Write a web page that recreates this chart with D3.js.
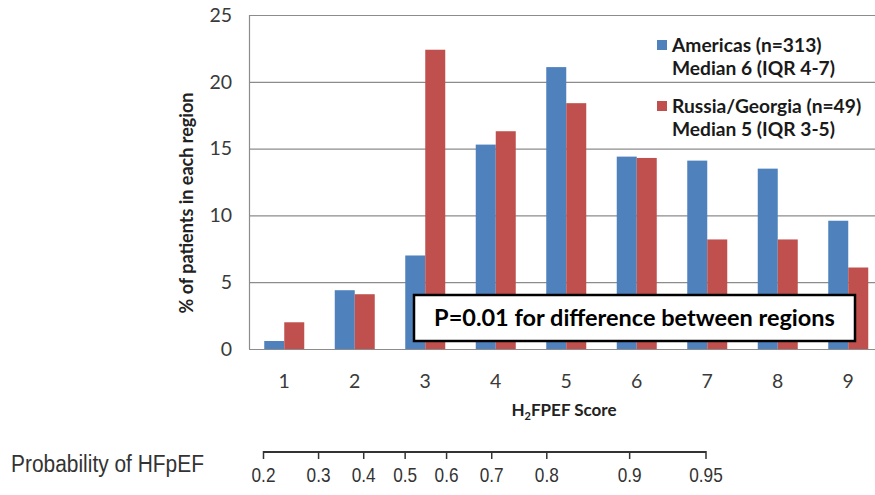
<!DOCTYPE html>
<html><head><meta charset="utf-8">
<script src="https://cdn.jsdelivr.net/npm/d3@7"></script>
<style>body{margin:0;background:#fff}svg{display:block}</style>
</head><body>
<svg id="c" width="875" height="495"></svg>
<script>
const categories = [1,2,3,4,5,6,7,8,9];
const seriesNames = ["Americas (n=313)", "Russia/Georgia (n=49)"];
const seriesSub = ["Median 6 (IQR 4-7)", "Median 5 (IQR 3-5)"];
const americas = [0.6, 4.4, 7.0, 15.3, 21.1, 14.4, 14.1, 13.5, 9.6];
const russia = [2.0, 4.1, 22.4, 16.3, 18.4, 14.3, 8.2, 8.2, 6.1];
const yTicks = [0,5,10,15,20,25];
const probTicks = [0.2,0.3,0.4,0.5,0.6,0.7,0.8,0.9,0.95];
const colors = ["#4F81BD", "#C0504D"];
const pText = "P=0.01 for difference between regions";

const svg = d3.select("#c");
const F = "Lato, 'Open Sans', sans-serif";
const x = d3.scaleBand().domain(categories).range([249, 883.5]).padding(0);
const x1 = d3.scaleBand().domain([0,1]).range([0, x.bandwidth()]).paddingInner(0).paddingOuter(0.7625);
const y = d3.scaleLinear().domain([0,25]).range([349,15]);

// gridlines
svg.append("g").selectAll("line").data(yTicks.filter(d=>d>0)).join("line")
  .attr("x1",249).attr("x2",883).attr("y1",d=>y(d)+0.5).attr("y2",d=>y(d)+0.5)
  .attr("stroke","#8c8c8c").attr("stroke-width",1.2);

// bars
const data = [americas, russia];
data.forEach((vals,si)=>{
  svg.append("g").selectAll("rect").data(categories).join("rect")
    .attr("x",(c)=>x(c)+x1(si)).attr("width",x1.bandwidth())
    .attr("y",(c,i)=>y(vals[i])).attr("height",(c,i)=>y(0)-y(vals[i]))
    .attr("fill",colors[si]);
});

// axes lines
svg.append("line").attr("x1",249.5).attr("x2",249.5).attr("y1",y(25)).attr("y2",y(0)).attr("stroke","#8c8c8c").attr("stroke-width",1.2);
svg.append("line").attr("x1",249).attr("x2",883).attr("y1",y(0)+0.5).attr("y2",y(0)+0.5).attr("stroke","#8c8c8c").attr("stroke-width",1.2);

// y tick labels
svg.append("g").selectAll("text").data(yTicks).join("text")
  .attr("x",232).attr("y",d=>y(d)).attr("dy","0.35em").attr("text-anchor","end")
  .attr("font-family",F).attr("font-size",19.5).attr("fill","#3a3a3a").text(d=>d);

// y title
svg.append("text").attr("transform","translate(193,203) rotate(-90)").attr("text-anchor","middle")
  .attr("font-family",F).attr("font-weight","bold").attr("font-size",18).attr("fill","#222")
  .text("% of patients in each region");

// x tick labels
svg.append("g").selectAll("text").data(categories).join("text")
  .attr("x",d=>x(d)+x.bandwidth()/2).attr("y",381).attr("dy","0.35em").attr("text-anchor","middle")
  .attr("font-family",F).attr("font-size",19.5).attr("fill","#3a3a3a").text(d=>d);

// x title
const xt = svg.append("text").attr("x",564).attr("y",416).attr("text-anchor","middle")
  .attr("font-family",F).attr("font-weight","bold").attr("font-size",17).attr("fill","#222");
xt.append("tspan").text("H");
xt.append("tspan").attr("font-size",11).attr("dy",4).text("2");
xt.append("tspan").attr("dy",-4).text("FPEF Score");

// legend
const legY = [45, 106];
seriesNames.forEach((n,i)=>{
  svg.append("rect").attr("x",657).attr("y",legY[i]-5).attr("width",10).attr("height",10).attr("fill",colors[i]);
  svg.append("text").attr("x",672).attr("y",legY[i]).attr("dy","0.35em")
    .attr("font-family",F).attr("font-weight","bold").attr("font-size",19.2).attr("fill","#1a1a1a").text(n);
  svg.append("text").attr("x",672).attr("y",legY[i]+23).attr("dy","0.35em")
    .attr("font-family",F).attr("font-weight","bold").attr("font-size",19.2).attr("fill","#1a1a1a").text(seriesSub[i]);
});

// P box
svg.append("rect").attr("x",414).attr("y",295).attr("width",441).attr("height",46)
  .attr("fill","#fff").attr("stroke","#000").attr("stroke-width",2.5);
svg.append("text").attr("x",634.5).attr("y",318).attr("dy","0.35em").attr("text-anchor","middle")
  .attr("font-family",F).attr("font-weight","bold").attr("font-size",23.5).attr("fill","#000").text(pText);

// probability scale (logit)
const logit = p=>Math.log(p/(1-p));
const px = d3.scaleLinear().domain([logit(0.2), logit(0.95)]).range([263.5, 706]);
const BF = "'Liberation Sans', Arial, sans-serif";
svg.append("line").attr("x1",px(logit(0.2))).attr("x2",px(logit(0.95))).attr("y1",452).attr("y2",452)
  .attr("stroke","#333").attr("stroke-width",2);
svg.append("g").selectAll("line").data(probTicks).join("line")
  .attr("x1",d=>px(logit(d))).attr("x2",d=>px(logit(d))).attr("y1",451).attr("y2",459)
  .attr("stroke","#333").attr("stroke-width",1.5);
svg.append("g").selectAll("text").data(probTicks).join("text")
  .attr("x",d=>px(logit(d))).attr("y",482).attr("text-anchor","middle")
  .attr("font-family",BF).attr("font-size",21).attr("fill","#333")
  .attr("transform",d=>`translate(${px(logit(d))*0.18},0) scale(0.82,1)`)
  .text(d=>d);
svg.append("text").attr("x",11).attr("y",472).attr("font-family",BF).attr("font-size",23).attr("fill","#333")
  .attr("textLength",193).attr("lengthAdjust","spacingAndGlyphs").text("Probability of HFpEF");
</script>
</body></html>
